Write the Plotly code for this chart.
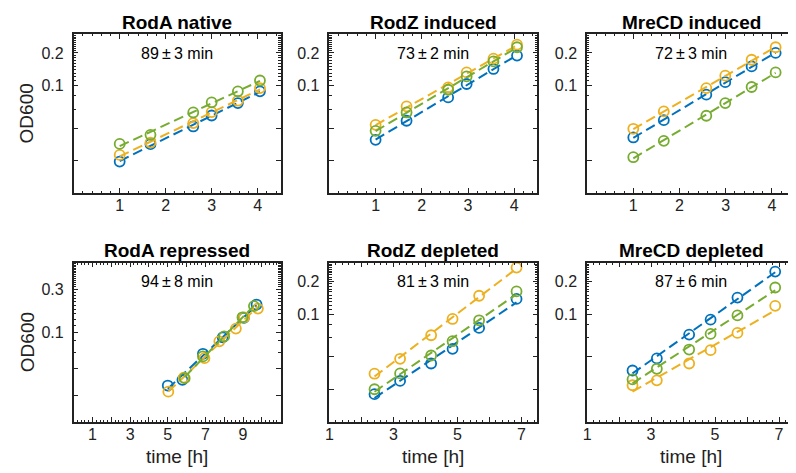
#!/usr/bin/env python3

import numpy as np
import plotly.graph_objects as go

BLUE = '#0072BD'
YELLOW = '#EDB120'
GREEN = '#77AC30'
FONT = 'Liberation Sans, Arial, Helvetica, sans-serif'
INK = '#222222'

titles = ['RodA native', 'RodZ induced', 'MreCD induced',
          'RodA repressed', 'RodZ depleted', 'MreCD depleted']
doubling = ['89\u2009±\u20093 min', '73\u2009±\u20092 min', '72\u2009±\u20093 min',
            '94\u2009±\u20098 min', '81\u2009±\u20093 min', '87\u2009±\u20096 min']

# RodA native
roda_native_t = [1.0, 1.67, 2.6, 3.0, 3.57, 4.05]
roda_native_blue = [0.0196, 0.0284, 0.0415, 0.0525, 0.0684, 0.088]
roda_native_yellow = [0.0226, 0.0294, 0.0446, 0.0565, 0.072, 0.0944]
roda_native_green = [0.0286, 0.0347, 0.056, 0.0695, 0.088, 0.111]

# RodZ induced
rodz_ind_t = [1.0, 1.67, 2.57, 2.97, 3.55, 4.06]
rodz_ind_blue = [0.0312, 0.0469, 0.0773, 0.103, 0.142, 0.189]
rodz_ind_yellow = [0.043, 0.0637, 0.0958, 0.132, 0.177, 0.239]
rodz_ind_green = [0.0378, 0.056, 0.091, 0.121, 0.167, 0.226]

# MreCD induced
mrecd_ind_t = [1.0, 1.66, 2.58, 2.99, 3.56, 4.08]
mrecd_ind_blue = [0.0328, 0.0475, 0.0819, 0.107, 0.150, 0.2]
mrecd_ind_yellow = [0.0395, 0.0573, 0.0944, 0.123, 0.173, 0.226]
mrecd_ind_green = [0.0215, 0.0305, 0.0522, 0.0684, 0.0965, 0.132]

# RodA repressed (samples not taken at identical times)
roda_rep_blue_t = [5.0, 5.78, 6.87, 7.92, 9.05, 9.72]
roda_rep_blue = [0.0255, 0.0295, 0.0576, 0.0879, 0.145, 0.204]
roda_rep_yellow_t = [5.03, 5.85, 6.95, 7.74, 8.62, 9.06, 9.79]
roda_rep_yellow = [0.0218, 0.0313, 0.0515, 0.0793, 0.11, 0.147, 0.184]
roda_rep_green_t = [5.9, 6.87, 8.0, 8.97, 9.58]
roda_rep_green = [0.0308, 0.0538, 0.090, 0.147, 0.196]

# RodZ depleted
rodz_dep_t = [2.41, 3.21, 4.18, 4.85, 5.68, 6.85]
rodz_dep_blue = [0.0181, 0.024, 0.0348, 0.0476, 0.0743, 0.138]
rodz_dep_yellow = [0.028, 0.0385, 0.0636, 0.090, 0.1476, 0.269]
rodz_dep_green = [0.0201, 0.0282, 0.0413, 0.056, 0.0875, 0.162]

# MreCD depleted
mrecd_dep_t = [2.42, 3.18, 4.19, 4.86, 5.7, 6.88]
mrecd_dep_blue = [0.030, 0.0388, 0.0645, 0.0887, 0.142, 0.247]
mrecd_dep_yellow = [0.0219, 0.0243, 0.0348, 0.0463, 0.0668, 0.119]
mrecd_dep_green = [0.0248, 0.0311, 0.0469, 0.0654, 0.097, 0.176]

panels = [
    [(roda_native_t, roda_native_blue, BLUE), (roda_native_t, roda_native_yellow, YELLOW),
     (roda_native_t, roda_native_green, GREEN)],
    [(rodz_ind_t, rodz_ind_blue, BLUE), (rodz_ind_t, rodz_ind_yellow, YELLOW),
     (rodz_ind_t, rodz_ind_green, GREEN)],
    [(mrecd_ind_t, mrecd_ind_blue, BLUE), (mrecd_ind_t, mrecd_ind_yellow, YELLOW),
     (mrecd_ind_t, mrecd_ind_green, GREEN)],
    [(roda_rep_blue_t, roda_rep_blue, BLUE), (roda_rep_yellow_t, roda_rep_yellow, YELLOW),
     (roda_rep_green_t, roda_rep_green, GREEN)],
    [(rodz_dep_t, rodz_dep_blue, BLUE), (rodz_dep_t, rodz_dep_yellow, YELLOW),
     (rodz_dep_t, rodz_dep_green, GREEN)],
    [(mrecd_dep_t, mrecd_dep_blue, BLUE), (mrecd_dep_t, mrecd_dep_yellow, YELLOW),
     (mrecd_dep_t, mrecd_dep_green, GREEN)],
]

W, H = 796, 473
col_px = [(62, 270), (319, 528), (578, 787)]
row_px = [(26, 185), (254.5, 414)]

fig = go.Figure()

for i, series in enumerate(panels):
    ax = '' if i == 0 else str(i + 1)
    for t, od, color in series:
        t = np.array(t)
        od = np.array(od)
        slope, icpt = np.polyfit(t, np.log(od), 1)
        tf = np.array([t.min(), t.max()])
        fig.add_trace(go.Scatter(
            x=tf, y=np.exp(icpt + slope * tf), mode='lines',
            line=dict(color=color, width=2, dash='10px,5px'),
            xaxis='x' + ax, yaxis='y' + ax, showlegend=False, hoverinfo='skip'))
        fig.add_trace(go.Scatter(
            x=t, y=od, mode='markers',
            marker=dict(symbol='circle-open', size=10, color=color,
                        line=dict(width=1.8, color=color)),
            xaxis='x' + ax, yaxis='y' + ax, showlegend=False))

layout = dict(
    width=W, height=H,
    margin=dict(l=0, r=0, t=0, b=0),
    paper_bgcolor='white', plot_bgcolor='white',
    font=dict(family=FONT, size=16, color=INK),
    annotations=[],
)

top_minor_y = [0.06, 0.08] + [round(0.11 + 0.01 * k, 2) for k in range(19) if k != 9]
rep_minor_y = [0.06, 0.08] + [round(0.12 + 0.02 * k, 2) for k in range(25) if k != 9]

for i in range(6):
    r, c = divmod(i, 3)
    ax = '' if i == 0 else str(i + 1)
    x0, x1 = col_px[c]
    y0, y1 = row_px[r]
    xd = [x0 / W, x1 / W]
    yd = [1 - y1 / H, 1 - y0 / H]

    if i < 3:
        xr, xt, xtt = [0, 4.5], [1, 2, 3, 4], ['1', '2', '3', '4']
    elif i == 3:
        xr = [0, 11]
        xt = list(range(1, 11))
        xtt = [str(v) if v % 2 else '' for v in xt]
    else:
        xr = [1, 7.5]
        xt = list(range(1, 8))
        xtt = [str(v) if v % 2 else '' for v in xt]

    if i == 3:
        yr = [np.log10(0.01), np.log10(0.6)]
        yt, ytt, ym = [0.02, 0.04, 0.1, 0.3], ['', '', '0.1', '0.3'], rep_minor_y
    else:
        yr = [np.log10(0.01), np.log10(0.3)]
        yt, ytt, ym = [0.02, 0.04, 0.1, 0.2], ['', '', '0.1', '0.2'], top_minor_y

    common = dict(showline=True, linecolor=INK, linewidth=1.6, mirror='allticks',
                  ticks='inside', ticklen=5, tickwidth=1.2, tickcolor=INK,
                  showgrid=False, zeroline=False,
                  tickfont=dict(family=FONT, size=16, color=INK))
    layout['xaxis' + ax] = dict(
        common, domain=xd, range=xr, anchor='y' + ax,
        tickmode='array', tickvals=xt, ticktext=xtt, ticklabelstandoff=-3,
        minor=dict(ticks='inside', ticklen=2.5, tickcolor=INK, dtick=0.2, tick0=0))
    layout['yaxis' + ax] = dict(
        common, domain=yd, type='log', range=yr, anchor='x' + ax,
        tickmode='array', tickvals=yt, ticktext=ytt, ticklabelstandoff=5,
        minor=dict(ticks='inside', ticklen=2.5, tickcolor=INK,
                   tickmode='array', tickvals=ym))

    # panel title
    layout['annotations'].append(dict(
        text='<b>' + titles[i] + '</b>', x=(x0 + x1) / 2 / W, y=1 - (y0 - 12) / H,
        xref='paper', yref='paper', showarrow=False, xanchor='center', yanchor='middle',
        font=dict(family=FONT, size=19, color='black')))
    # doubling time
    layout['annotations'].append(dict(
        text=doubling[i], x=0.5, y=0.88, xref='x' + ax + ' domain', yref='y' + ax + ' domain',
        showarrow=False, xanchor='center', yanchor='middle',
        font=dict(family=FONT, size=16, color='black')))
    if c == 0:
        layout['annotations'].append(dict(
            text='OD600', x=15 / W, y=1 - (y0 + y1) / 2 / H, xref='paper', yref='paper',
            textangle=-90, showarrow=False, xanchor='center', yanchor='middle',
            font=dict(family=FONT, size=19, color=INK)))
    if r == 1:
        layout['annotations'].append(dict(
            text='time [h]', x=(x0 + x1) / 2 / W, y=1 - 448 / H, xref='paper', yref='paper',
            showarrow=False, xanchor='center', yanchor='middle',
            font=dict(family=FONT, size=19, color=INK)))

fig.update_layout(layout)
fig.write_html("out.html")
